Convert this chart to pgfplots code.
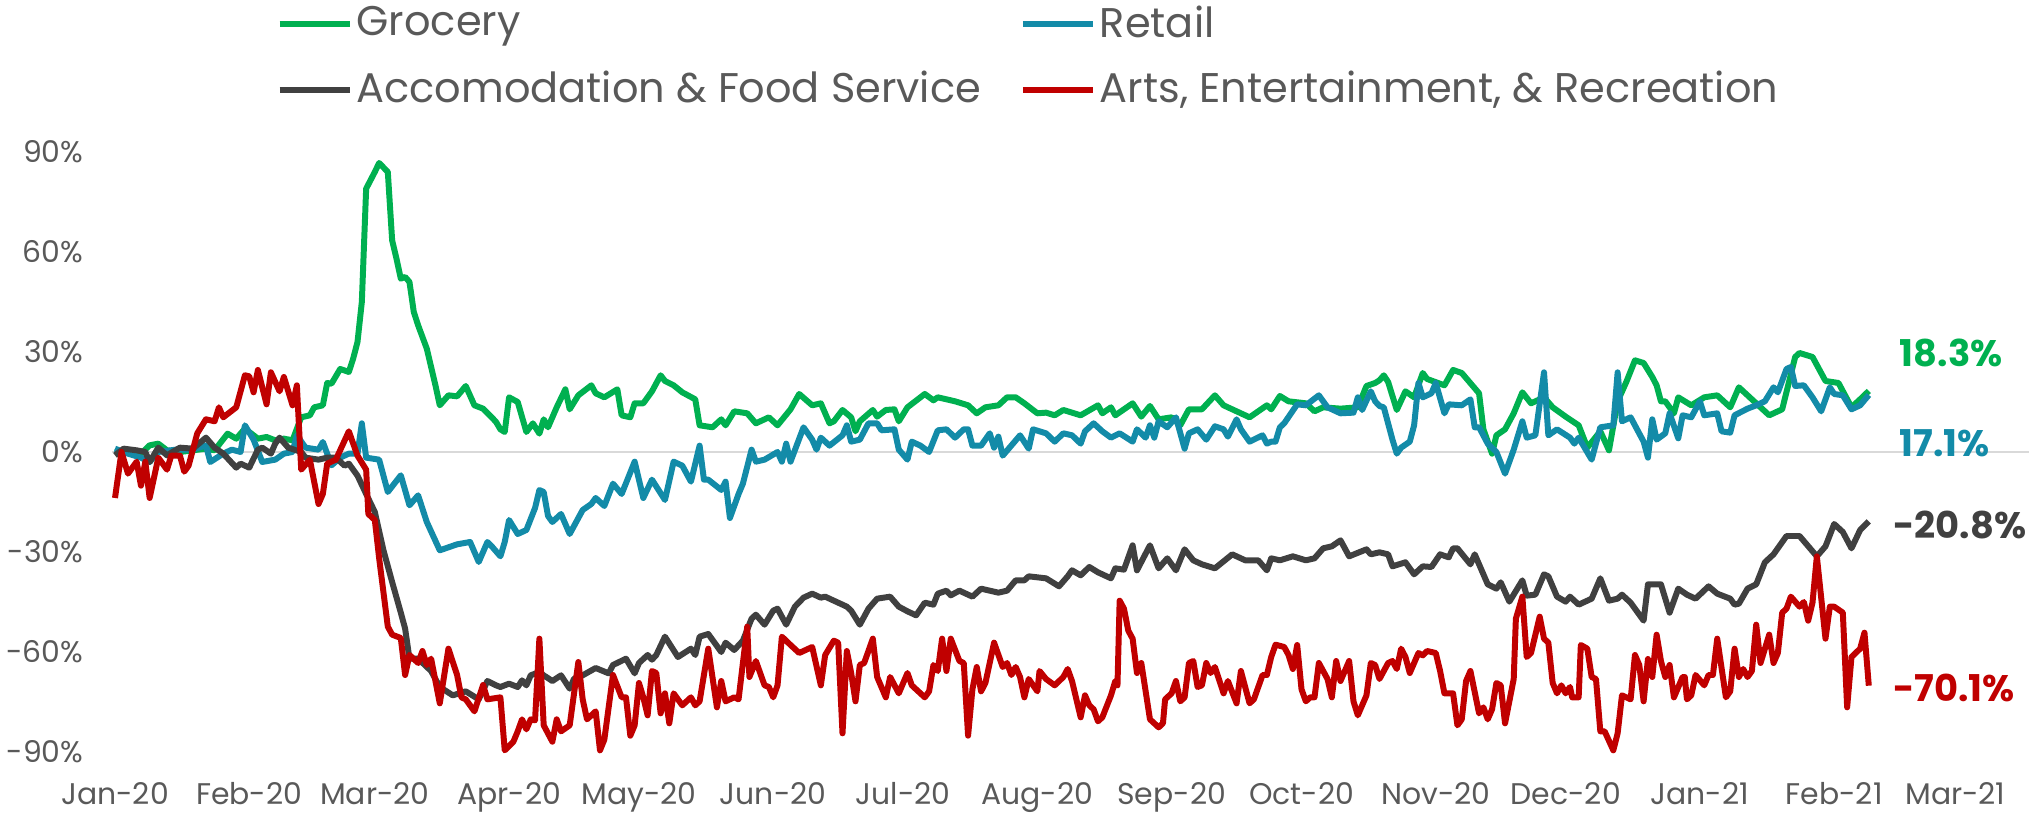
\documentclass[border=0pt]{standalone}
\usepackage{pgfplots}
\pgfplotsset{compat=1.18}
\usepackage{fontspec}
\setmainfont{Poppins}
\definecolor{grocery}{HTML}{00B050}
\definecolor{retail}{HTML}{138BA8}
\definecolor{accom}{HTML}{404040}
\definecolor{arts}{HTML}{C00000}
\definecolor{txt}{HTML}{595959}
\definecolor{zeroline}{HTML}{D9D9D9}

\begin{document}
\begin{tikzpicture}
\begin{axis}[
    scale only axis,
    width=191.4mm, height=60mm,
    xmin=0, xmax=442, ymin=-90, ymax=90,
    axis line style={draw=none},
    major tick length=0pt,
    clip=false,
    xtick={0,31,60,91,121,152,182,213,244,274,305,335,366,397,425},
    xticklabels={Jan-20,Feb-20,Mar-20,Apr-20,May-20,Jun-20,Jul-20,Aug-20,Sep-20,Oct-20,Nov-20,Dec-20,Jan-21,Feb-21,Mar-21},
    ytick={-90,-60,...,90},
    yticklabel={\pgfmathprintnumber{\tick}\%},
    /pgf/number format/assume math mode=true,
    ticklabel style={font=\fontsize{8.5}{10}\selectfont, text=txt, inner sep=0pt},
    yticklabel style={anchor=east, xshift=-3.1mm},
    xticklabel style={anchor=north, yshift=-3.0mm},
    legend columns=2,
    legend cell align=left,
    legend style={at={(0.0841,1.252)}, anchor=north west, draw=none, fill=none,
        inner sep=0pt, font=\fontsize{11.8}{13}\selectfont, text=txt,
        /tikz/every even column/.append style={column sep=3.5mm},
        row sep=2.1mm, nodes={inner sep=0.4mm}},
    legend image code/.code={\draw[#1] (0mm,0mm) -- (7mm,0mm);},
]

% zero line
\addplot[zeroline, line width=0.6pt, forget plot] coordinates {(-0.7,0) (442,0)};

% Grocery
\addplot[grocery, line width=1.7pt, line join=round] coordinates {
(0,0)(3,0.5)(6,-0.5)(8,2)(10,2.5)(12,0.5)(15,0)(18,0.5)(21,1)(23,0.5)(26,5.5)(28,4)(30,7)(31,6)(33,4)(35,4.5)(37,3.5)(39,4)(41,3.5)(43,10.4)(45,11)(46,13.4)(48,14)(49,20.7)(50,20.5)(52,24.9)(54,24)(55,28)(56,33)(57,45)(58,79)(60,84)(61,86.7)(63,84)(64,63.5)(65,58)(66,52)(67,52.5)(68,51)(69,42)(70,38)(72,31)(74,20)(75,14)(77,17)(79,16.7)(81,19.8)(83,14)(85,13)(87,10.4)(88,9)
(89,6.8)(90,6)(91,16.4)(93,15)(95,6)(96.5,8.6)(98,5.5)(99,9.8)(100,7.4)(102,13.4)(104,18.8)(105,12.8)(107,17)(110,20)(111,17.6)(113,16.4)(116,18.8)(117,11)(119,10.4)(120,14.6)(122,14.6)(124,18.2)(126,23)(127,21.3)(129,20)(131,17.9)(134,15.8)(135,8)(138,7.4)(140,9.8)(141,8)(143,12.2)(146,11.6)(148,8.6)(151,10.4)(153,8)(156,12.8)(158,17.4)(161,14)(163,14.6)(165,8.6)(166,9.2)(168,12.6)(170,10.4)(171,6.2)(172,9.2)(175,12.6)(176,10.6)(178,12.6)(180,12.8)(181,9.2)(183,13.4)(187,17.4)(189,15.5)
(190,16.4)(192,15.8)(194,15.2)(197,14)(199,11.6)(201,13.4)(204,14)(206,16.4)(208,16.4)(210,14.6)(213,11.6)(215,11.8)(217,11)(219,12.6)(223,11)(227,14)(228,11.6)(230,13.4)(231,11)(233,12.8)(235,14.6)(237,10.6)(239,13.8)(241,9.8)(244,10.4)(246,8)(248,12.8)(251,12.8)(254,17)(256,14)(258,12.8)(260,11.6)(262,10.4)(266,14)(267,12.8)(269,16.8)(271,15.2)(275,14.6)(277,12.2)(279,13.4)(283,13)(287,13.4)(289,19.8)(291,20.7)
(292,21.5)(293,23)(294,21)(296,12.6)(298,18.2)(300,16.4)(302,23.7)(303,21.9)(307,20)(309,24.6)(311,23.7)(315,17.6)(316,6.8)(318,-0.5)(319,5)(321,6.8)(323,11.6)(325,17.9)(327,14.6)(330,16.4)(332,13.4)(335,10.6)(338,8)(340,1.3)(343,6.2)(345,0.5)(347,15.2)(349,21)(351,27.5)(353,26.7)(355,22.5)(356,20)(357,15.2)(358,15.2)(360,11.6)(361,16.4)(364,14)(367,16.4)(370,17)(373,13.4)(375,19.4)(377,17)(379,14.6)(382,11)(385,12.8)(388,28.5)(389,29.7)(392,28.5)(395,21.3)(398,20.7)(401,13.4)(403,15.8)(405,18.3)
};
\addlegendentry{Grocery}

% Retail
\addplot[retail, line width=1.7pt, line join=round] coordinates {
(0,1)(3,-0.5)(6,-1.7)(8,-3)(10,0)(14,0.7)(18,0.7)(21,2)(22,-3)(25,-0.5)(27,0.7)(29,0)(30,8)(32,3.7)(34,-3)(37,-2.3)(39,-0.5)(41,0)(42,5)(44,1.3)(47,0.7)(48,3)(50,-4)(52,-1.7)(54,-0.5)(56,-0.5)(57,8.6)(58,-1.7)(61,-2.3)(63,-12)(66,-7)(68,-16)(70,-13)(72,-21)(75,-29.5)(79,-27.7)(82,-27)(84,-33)(86,-27)(87,-28.3)(89,-31.3)
(90,-27)(91,-20.4)(93,-24.6)(95,-23.4)(97,-16.8)(98,-11.4)(99,-12)(100,-19.2)(101,-21)(103,-18.6)(105,-24.6)(108,-17.4)(110,-15.6)(111,-13.8)(113,-16.2)(115,-9.5)(117,-12.6)(120,-2.9)(122,-13.8)(124,-8.3)(127,-14.4)(129,-2.9)(131,-4.1)(133,-8.9)(135,1.9)(136,-8.3)(137,-8.3)(140,-11.4)(141,-8.9)(142,-19.8)(144,-12.6)(145,-9.5)(147,0.7)(148,-2.9)(150,-2.3)(153,0)(154,-2.9)(155,2.5)(156,-2.9)(159,7.4)(161,3.7)(162,0.7)(163,4.3)(165,1.9)(168,5)(169,8)(170,3.1)(172,3.7)(174,8.6)(176,8.6)(177,6.5)(180,6.8)(181,0.7)(183,-2.3)(184,3.1)(186,1.9)(188,0)
(190,6.5)(192,6.8)(194,4.3)(196,6.8)(197,6.8)(198,1.9)(200,1.9)(202,5.6)(203,1.3)(204,4.6)(205,-1.1)(209,5)(211,1)(212,6.8)(215,5.6)(217,3.1)(219,5.6)(221,5)(223,2.5)(224,6.2)(226,8.6)(228,6.2)(230,4.3)(232,5.6)(235,3.1)(236,6.8)(238,4.3)(239,8)(240,4.3)(241,9.2)(243,7.4)(245,10.4)(247,1)(248,5.6)(250,6.8)(252,3.7)(254,7.7)(256,6.8)(257,4.6)(259,9.8)(260,6.8)(262,3.1)(265,5)(266,2.5)(267,3.1)(268,3.1)(269,7.4)(270,8.6)(273,14.3)(275,14)(278,17)(280,13.4)(283,11.6)(286,11.8)(287,16.4)(288,12.6)(290,18.2)(291,15.2)
(292,13.8)(293,13.4)(295,3.7)(296,-0.5)(297,1.3)(299,3.1)(300,8)(301,20.7)(302,16.4)(304,17.6)(305,20.7)(307,11.6)(308,14.3)(311,14)(313,15.8)(314,7.4)(315,7.4)(317,2.5)(319,0)(321,-6.5)(323,0.7)(325,9.2)(326,4.3)(328,5)(330,23.9)(331,5)(333,6.8)(336,4.3)(337,2.5)(338,4.3)(341,-2.3)(343,7.4)(346,8)(347,23.9)(348,9.2)(350,10.4)(353,3.1)(354,-1.7)(355,9.8)(356,3.7)(358,5.6)(359,11.6)(361,4.1)(362,11)(364,10.4)(366,15.2)(367,11)(370,11.6)(371,6.2)(373,5.8)(374,11)(377,13)(379,14)(381,15.2)(383,19.4)(384,17.9)(386,24.9)(387,25.5)(388,19.8)(390,20)(392,16.4)(394,12.2)(396,19.4)(397,17.4)(399,17)(401,12.8)(403,14)(405,17.1)
};
\addlegendentry{Retail}

% Accomodation & Food Service
\addplot[accom, line width=1.7pt, line join=round] coordinates {
(0,-1)(2,1)(5,0.5)(7,0)(8,-3)(10,1.3)(12,-1)(15,1.3)(18,1)(21,4.3)(23,1.3)(25,-0.5)(28,-4.7)(29,-3.5)(31,-4.7)(33,0.7)(34,1.3)(36,-0.5)(37,2.5)(38,4.3)(40,1.3)(43,0)(44,-1.7)(47,-2.3)(49,-1.7)(51,-1.7)(53,-4.1)(54,-3.5)(56,-7.1)(58,-12.6)(60,-18)(62,-29.5)(64,-39)(66,-48.2)(67,-53)(68,-62)(70,-62)(73,-65.7)(75,-70.5)(78,-73)(81,-71.8)(84,-74.2)(86,-68.7)(88,-70)
(89,-70.5)(91,-69.5)(93,-70.5)(94,-68.5)(95,-70)(96,-67)(98,-66)(99,-67)(101,-68.7)(103,-67)(105,-71)(106,-68)(108,-67)(111,-64.8)(114,-66.4)(115,-63.9)(118,-62)(120,-66.4)(121,-63.3)(123,-60.9)(124,-62.3)(125,-60.9)(127,-55.4)(130,-61.5)(133,-59)(134,-60.9)(135,-55.4)(137,-54.6)(140,-60)(141,-57.2)(143,-59.4)(145,-56.6)(147,-50)(148,-48.8)(150,-51.8)(152,-47.6)(153,-47)(155,-51.8)(157,-46.4)(159,-43.7)(161,-42.5)(163,-43.7)(164,-43.4)(167,-45.2)(169,-46.4)(170,-47.6)(172,-51.8)(174,-47)(176,-44)(179,-43.4)(181,-46.4)(183,-47.8)(185,-49)(187,-45.2)(189,-45.8)
(190,-42.5)(192,-41.6)(193,-43)(195,-41.6)(198,-43.4)(200,-41)(204,-42.2)(206,-41.6)(208,-38.5)(210,-38.5)(211,-37.3)(215,-37.9)(218,-40.3)(220,-37.3)(221,-35.5)(223,-37)(225,-34.5)(227,-36.1)(230,-37.9)(231,-34.9)(233,-35.3)(235,-28)(236,-35.5)(239,-28)(241,-34.9)(243,-31.9)(245,-35.5)(247,-29.2)(249,-32.5)(251,-33.7)(254,-34.9)(258,-30.7)(261,-32.5)(264,-32.5)(266,-35.5)(267,-31.9)(269,-32.5)(272,-31.3)(275,-32.5)(277,-31.9)(279,-28.9)(281,-28.3)(283,-26.5)(285,-31.3)(289,-29.2)(290,-30.7)
(292,-30.1)(294,-30.7)(295,-34.3)(298,-33.1)(300,-36.7)(302,-34.3)(304,-34.5)(306,-30.7)(308,-31.6)(309,-28.9)(310,-28.9)(313,-33.7)(314,-30.7)(317,-39.7)(319,-41)(320,-39.1)(322,-44.9)(325,-38.5)(326,-43.1)(328,-42.8)(330,-36.7)(331,-37.3)(333,-43.4)(335,-44.9)(336,-43.4)(338,-45.8)(341,-44)(343,-37.9)(345,-44.6)(347,-44)(348,-42.8)(350,-45.2)(353,-50.6)(354,-39.7)(357,-39.7)(359,-48.2)(361,-41)(363,-42.8)(365,-44)(368,-40.3)(370,-42.5)(373,-44)(374,-45.8)(375,-45.5)(377,-41)(379,-39.7)(381,-33.1)(383,-30.7)(386,-25.2)(389,-25.2)(393,-31.3)(395,-28.3)(397,-21.6)(399,-24)(401,-28.9)(403,-23.4)(405,-20.8)
};
\addlegendentry{Accomodation \& Food Service}

% Arts, Entertainment, & Recreation
\addplot[arts, line width=1.7pt, line join=round] coordinates {
(0,-13.8)(1.5,0)(3,-6.5)(5,-2.9)(6,-10.1)(7,-2.9)(8,-13.8)(10,-1.7)(12,-5.3)(13,-1.1)(15,-1.1)(16,-5.9)(17,-4.1)(19,5.6)(21,9.8)(23,9.2)(24,13.4)(25,10.4)(28,13.4)(30,23)(31,22.7)(32,17.9)(33,24.6)(35,14.3)(36,23.9)(38,18.2)(39,22.5)(41,14)(42,20)(43,-5.3)(45,-2.3)(47,-15.6)(48,-12.6)(49,-3.5)(51,-2.3)(54,6.2)(56,-1.1)(58,-5.3)(58.5,-18.6)(60,-20.4)(61,-31.9)(63,-52.4)(64,-54.8)(66,-55.8)(67,-66.9)(68,-60.9)(70,-63.3)(71,-59.7)(72,-63.9)(73,-62)(75,-75.4)(77,-59)(79,-66.9)(80,-73.6)(81,-74.2)(83,-77.8)(85,-69.9)(86,-74.2)(89,-73.6)
(90,-89.5)(92,-86.9)(93,-83.8)(94,-80.2)(95,-83.2)(96,-80.2)(97,-80.5)(98,-56)(99,-82)(101,-86.9)(102,-80.2)(103,-83.8)(105,-82)(107,-63)(108,-74.2)(109,-80.2)(111,-77.8)(112,-89.5)(113,-86.3)(115,-66.9)(117,-73.6)(118,-73.6)(119,-85.1)(120,-82)(121,-69.3)(122,-73.6)(123,-79)(124,-65.7)(125,-66.3)(126,-78.4)(127,-72.4)(128,-81.4)(129,-72.4)(131,-76)(133,-73.6)(134,-76)(135,-74.8)(137,-59)(139,-76.6)(140,-68.7)(141,-74.8)(143,-73.6)(144,-74.2)(146,-52.4)(146.5,-67.5)(148,-62.7)(150,-70)(151,-70.5)(152,-73.6)(153,-70)(154,-55.4)(156,-57.9)(158,-60.3)(159,-59.7)(161,-58.5)(163,-70)(164,-60.9)(166,-56.6)(167,-57.2)(168,-84.4)(169,-59.7)(170,-66.3)(171,-74.8)(172,-63.9)(173,-63.3)(175,-56)(176,-67.5)(178,-73.6)(179,-67.5)(181,-72.4)(183,-66.3)(184,-70)(187,-73.6)(188,-71.8)(189,-63.9)
(190,-65.7)(191,-56)(192,-65.7)(193,-56)(195,-62.7)(196,-63.3)(197,-85.1)(198,-71.2)(199,-64.5)(200,-71.8)(201,-69.3)(203,-57.2)(205,-64.5)(206,-63.3)(207,-66.9)(208,-64.5)(209,-67.5)(210,-73.6)(211,-68.1)(213,-71.8)(213.5,-65.7)(215,-68.1)(217,-70)(219,-67.5)(220,-65.1)(221,-68.7)(223,-79.6)(224,-73)(225,-76)(226,-77.2)(227,-80.8)(228,-79.6)(230,-73)(231,-68.7)(231.5,-70)(232,-44.6)(233,-47)(234,-53.6)(235,-56)(236,-66.3)(237,-63.3)(239,-80.2)(241,-82.6)(242,-81.4)(242.5,-74.2)(244,-72.4)(245,-68.7)(246,-74.8)(247,-73.6)(248,-63.3)(249,-62.7)(250,-70.5)(251,-70)(252,-63.3)(253,-66.3)(254,-64.5)(256,-72.4)(257,-68.7)(259,-75.4)(260,-65.7)(262,-75.4)(263,-74.2)(265,-66.9)(266,-66.9)(267,-61.5)(268,-57.8)(270,-58.5)(271,-60.9)(272,-65.1)(273,-57.9)(274,-71.2)(275,-74.8)(276,-73.6)(277,-73.6)(278,-63.3)(280,-68.1)(281,-73.6)(282,-62.7)(283,-68.7)(285,-62.7)(286,-74.8)(287,-79)(289,-73)(290,-63.3)(291,-63.9)
(292,-68.1)(294,-63.3)(295,-62.7)(296,-65.1)(297,-59)(298,-61.5)(299,-66.3)(301,-60.3)(302,-61)(303,-59.7)(305,-60.3)(306,-65.7)(307,-72.4)(309,-72.4)(310,-82)(311,-80.2)(312,-68.7)(313,-65.7)(315,-78.4)(316,-76.6)(317,-80.2)(318,-77.2)(319,-69.3)(320,-70)(321,-81.4)(323,-68.1)(323.5,-50)(325,-43.4)(326,-61.5)(327,-60.3)(329,-49.4)(330,-56)(331,-57.2)(332,-69.3)(333,-72.4)(334,-70)(335,-72.4)(336,-70.5)(336.5,-73.6)(338,-73.6)(338.5,-57.9)(340,-59)(341,-67.5)(342,-68.1)(343,-83.8)(344,-83.8)(346,-89.5)(347,-84.4)(348,-73)(350,-74.2)(351,-60.9)(352,-63.9)(353,-74.8)(354,-62.1)(355,-67.5)(356,-54.8)(357,-62.7)(358,-67.5)(359,-63.9)(360,-73.6)(362,-67.5)(362.5,-67.5)(363,-74.2)(364,-73)(365,-66.9)(367,-70)(368,-66.9)(369,-66.9)(370,-56)(372,-73.6)(373,-71.8)(374,-59)(375,-67.5)(376,-65.1)(377,-67.5)(378,-65.7)(379,-51.8)(380,-63.3)(382,-54.8)(383,-63.3)(384,-60.3)(385,-48.2)(386,-47)(387,-43.4)(389,-46.4)(390,-45)(391,-50.6)(392,-45.2)(393,-31.3)(395,-56)(396,-46.4)(397,-46.4)(399,-48.2)(400,-76.6)(401,-61.5)(403,-59)(404,-54.2)(405,-70.1)
};
\addlegendentry{Arts, Entertainment, \& Recreation}

% end-of-series labels
\node[anchor=west, inner sep=0pt, text=grocery, font=\bfseries\fontsize{10.5}{12}\selectfont] at (axis cs:412,29.7) {18.3\%};
\node[anchor=west, inner sep=0pt, text=retail, font=\bfseries\fontsize{10.5}{12}\selectfont] at (axis cs:412,2.7) {17.1\%};
\node[anchor=west, inner sep=0pt, text=accom, font=\bfseries\fontsize{10.5}{12}\selectfont] at (axis cs:410.5,-21.9) {-20.8\%};
\node[anchor=west, inner sep=0pt, text=arts, font=\bfseries\fontsize{10.5}{12}\selectfont] at (axis cs:410.5,-70.8) {-70.1\%};
\end{axis}
\pgfresetboundingbox
\path (-11.5mm,-6.1mm) rectangle (191.4mm,75.2mm);
\end{tikzpicture}
\end{document}
